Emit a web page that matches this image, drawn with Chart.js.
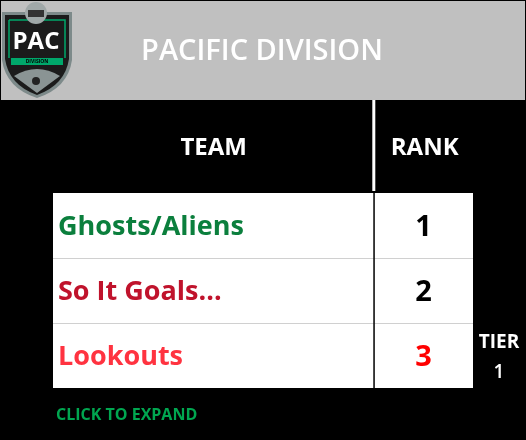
<!DOCTYPE html>
<html>
<head>
<meta charset="utf-8">
<script src="https://cdn.jsdelivr.net/npm/chart.js@4"></script>
<style>
  html, body { margin: 0; padding: 0; background: #000; }
  #wrap { width: 526px; height: 440px; }
</style>
</head>
<body>
<div id="wrap"><canvas id="chartTable"></canvas></div>
<script>
'use strict';

const TEAMS = ['Ghosts/Aliens', 'So It Goals...', 'Lookouts'];
const RANKS = [1, 2, 3];
const TEAM_COLORS = ['#0b7f3d', '#c0132c', '#ff3340'];
const RANK_COLORS = ['#000000', '#000000', '#ff0000'];
const FILL = [1, 1, 1];

const FONT = "'Open Sans', 'Liberation Sans', sans-serif";

// ---- Table decorations drawn around the bar rows ------------
const tablePlugin = {
    id: 'tablePlugin',
    beforeDraw(chart) {
        const c = chart.ctx;
        c.save();
        c.fillStyle = '#000';
        c.fillRect(0, 0, chart.width, chart.height);
        c.fillStyle = '#c0c0c0';
        c.fillRect(1, 1, chart.width - 2, 99);
        c.restore();
    },
    afterDatasetsDraw(chart) {
        const c = chart.ctx;
        const area = chart.chartArea;
        const y = chart.scales.y;
        const x = chart.scales.x;
        const divX = x.getPixelForValue(0.765);
        c.save();

        // logo
        drawLogo(c);

        // title
        c.fillStyle = '#fff';
        c.font = `600 29px ${FONT}`;
        c.textAlign = 'center';
        c.textBaseline = 'middle';
        c.fillText('PACIFIC DIVISION', 262, 52);

        // header divider
        c.fillStyle = '#fff';
        c.fillRect(divX - 2, 100, 3, area.top - 100 - 2);
        c.font = `bold 24px ${FONT}`;
        c.fillText('TEAM', (area.left + divX) / 2, 148);
        c.fillText('RANK', (divX + area.right) / 2 + 1, 148);

        // row separators
        c.fillStyle = '#d0d0d0';
        for (let i = 1; i < TEAMS.length; i++) {
            const yy = (y.getPixelForValue(i - 1) + y.getPixelForValue(i)) / 2;
            c.fillRect(area.left, yy, area.right - area.left, 1);
        }
        c.fillStyle = '#000';
        c.fillRect(divX - 1, area.top, 1.5, area.bottom - area.top);

        TEAMS.forEach((t, i) => {
            const yy = y.getPixelForValue(i) + 2;
            c.textAlign = 'left';
            c.fillStyle = TEAM_COLORS[i];
            c.font = `bold 27px ${FONT}`;
            c.fillText(t, area.left + 5, yy);
            c.textAlign = 'center';
            c.fillStyle = RANK_COLORS[i];
            c.font = `bold 29px ${FONT}`;
            c.fillText(String(RANKS[i]), (divX + area.right) / 2, yy);
        });

        c.fillStyle = '#fff';
        c.font = `bold 19px ${FONT}`;
        c.textAlign = 'center';
        c.fillText('TIER', 499, 343);
        c.font = `600 19px ${FONT}`;
        c.fillText('1', 499, 373);

        c.textAlign = 'left';
        c.fillStyle = '#00a650';
        c.font = `bold 16px ${FONT}`;
        c.fillText('CLICK TO EXPAND', 56, 415);
        c.restore();
    },
};

function drawLogo(c) {
    c.save();
    // shield
    c.beginPath();
    c.moveTo(2, 12); c.lineTo(72, 12); c.lineTo(72, 60);
    c.quadraticCurveTo(68, 88, 37, 98);
    c.quadraticCurveTo(6, 88, 2, 60); c.closePath();
    c.fillStyle = '#7d8a8a'; c.fill();
    c.beginPath();
    c.moveTo(5, 15); c.lineTo(69, 15); c.lineTo(69, 59);
    c.quadraticCurveTo(65, 85, 37, 95);
    c.quadraticCurveTo(9, 85, 5, 59); c.closePath();
    c.fillStyle = '#1b1b1b'; c.fill();
    c.strokeStyle = '#00a86b'; c.lineWidth = 1.5;
    c.beginPath(); c.moveTo(9, 20); c.lineTo(65, 20); c.lineTo(65, 58); c.moveTo(9, 20); c.lineTo(9, 58); c.stroke();
    c.fillStyle = '#00a86b';
    c.fillRect(11, 58, 52, 7);
    c.fillStyle = '#000'; c.font = `bold 5px ${FONT}`;
    c.textAlign = 'center'; c.textBaseline = 'middle';
    c.fillText('DIVISION', 37, 61.5);
    c.fillStyle = '#fff'; c.font = `bold 24px ${FONT}`;
    c.fillText('PAC', 36, 42);
    c.fillStyle = '#8a9494';
    c.beginPath(); c.moveTo(14, 76); c.quadraticCurveTo(37, 62, 60, 76); c.lineTo(37, 93); c.closePath(); c.fill();
    c.fillStyle = '#222';
    c.beginPath(); c.arc(36, 81, 4, 0, Math.PI * 2); c.fill();
    // nhl badge
    c.beginPath(); c.arc(36, 13, 11, 0, Math.PI * 2);
    c.fillStyle = '#a0a8a8'; c.fill();
    c.fillStyle = '#333'; c.fillRect(28, 10, 16, 7);
    c.restore();
}

new Chart(document.getElementById('chartTable'), {
    type: 'bar',
    data: {
        labels: TEAMS,
        datasets: [{
            data: FILL,
            backgroundColor: '#ffffff',
            borderWidth: 0,
            barPercentage: 1,
            categoryPercentage: 1,
        }],
    },
    options: {
        indexAxis: 'y',
        responsive: true,
        maintainAspectRatio: false,
        animation: false,
        layout: { padding: { left: 53, right: 53, top: 193, bottom: 52 } },
        plugins: { legend: { display: false }, tooltip: { enabled: false } },
        scales: {
            x: { display: false, min: 0, max: 1 },
            y: { display: false },
        },
    },
    plugins: [tablePlugin],
});
</script>
</body>
</html>
